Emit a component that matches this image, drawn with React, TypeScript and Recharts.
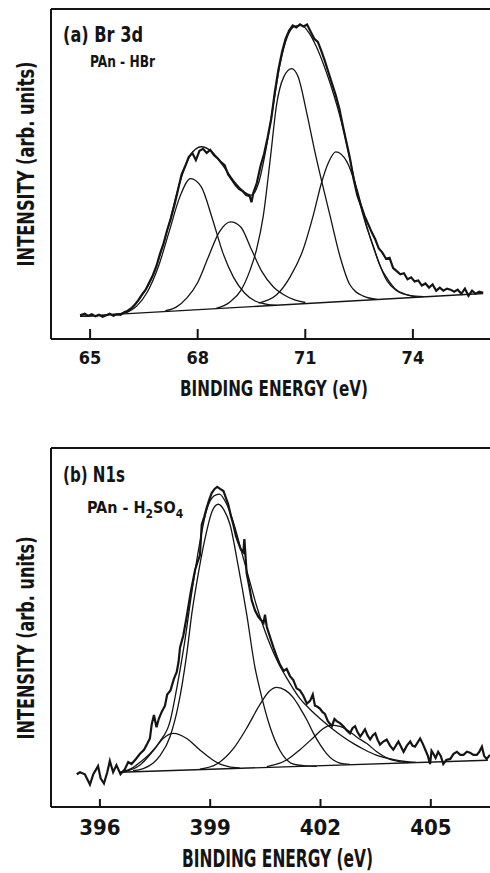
import React from 'react';
import { LineChart, Line, XAxis, YAxis, ReferenceLine } from 'recharts';

type Pt = [number, number];

// (a) Br 3d, PAn-HBr : binding energy (eV), intensity (arb. units)
const brTicks = [65, 68, 71, 74];
const brMeasured: Pt[] = [
  [64.72, 23], [64.85, 24.5], [64.95, 22.5], [65.05, 24], [65.15, 22], [65.25, 23.5], [65.35, 21.5],
  [65.45, 23], [65.55, 24.5], [65.65, 22.5], [65.75, 24], [65.85, 23.5], [65.95, 26], [66.05, 27.5],
  [66.15, 30], [66.25, 33.5], [66.35, 38], [66.45, 43.5], [66.55, 48], [66.65, 55], [66.75, 62],
  [66.85, 71], [66.95, 83], [67.05, 93], [67.15, 106], [67.25, 117], [67.35, 130], [67.45, 145],
  [67.55, 160], [67.65, 168], [67.75, 177], [67.85, 181], [67.95, 174], [68.05, 183], [68.15, 185],
  [68.25, 181], [68.35, 184], [68.45, 179], [68.55, 176], [68.65, 172], [68.75, 169], [68.85, 160],
  [68.95, 155], [69.05, 150], [69.15, 146], [69.25, 144], [69.35, 140], [69.45, 139], [69.5, 133],
  [69.55, 142], [69.65, 152], [69.75, 168], [69.85, 180], [69.95, 196], [70.05, 214], [70.15, 240],
  [70.25, 262], [70.35, 279], [70.45, 292], [70.55, 300], [70.65, 305], [70.75, 303], [70.85, 306],
  [70.95, 304], [71.05, 306], [71.15, 299], [71.25, 292], [71.35, 289], [71.45, 280], [71.55, 270],
  [71.65, 259], [71.75, 248], [71.85, 237], [71.95, 224], [72.05, 207], [72.15, 191], [72.25, 175],
  [72.35, 155], [72.45, 140], [72.55, 130], [72.65, 120], [72.75, 112], [72.85, 104], [72.95, 97],
  [73.05, 88], [73.15, 84], [73.25, 78], [73.35, 79], [73.45, 69], [73.55, 66], [73.65, 63],
  [73.75, 64], [73.85, 58], [73.95, 60], [74.05, 56], [74.15, 57], [74.25, 52], [74.35, 54],
  [74.45, 50], [74.55, 53], [74.65, 47], [74.75, 50], [74.85, 47], [74.95, 49], [75.05, 48],
  [75.15, 46], [75.25, 48], [75.35, 44], [75.45, 49], [75.55, 42], [75.65, 47], [75.75, 44],
  [75.85, 46], [75.96, 45],
];
const brFit: Pt[] = [
  [64.72, 22], [65.5, 23.5], [66.0, 26], [66.4, 40], [66.8, 66], [67.2, 112], [67.5, 152], [67.8, 179],
  [68.1, 187], [68.4, 182], [68.7, 169], [69.0, 154], [69.3, 143], [69.5, 140], [69.7, 152], [69.9, 184],
  [70.1, 226], [70.3, 268], [70.5, 294], [70.7, 304], [70.9, 305], [71.1, 298], [71.3, 285], [71.5, 268],
  [71.7, 248], [71.9, 225], [72.1, 198], [72.3, 166], [72.5, 135], [72.7, 110], [72.9, 90], [73.1, 70],
  [73.3, 58], [73.5, 49], [73.8, 43.5], [74.1, 41],
];
const brPeak1: Pt[] = [
  [66.0, 25.5], [66.3, 32], [66.6, 46], [66.9, 70], [67.2, 104], [67.5, 138], [67.8, 156], [68.1, 148],
  [68.4, 118], [68.7, 84], [69.0, 60], [69.3, 45], [69.6, 37], [69.9, 34], [70.2, 32.8],
];
const brPeak2: Pt[] = [
  [67.1, 27.5], [67.4, 31], [67.7, 40], [68.0, 55], [68.3, 80], [68.6, 104], [68.92, 114], [69.2, 109],
  [69.5, 87], [69.8, 65], [70.1, 51], [70.4, 43], [70.7, 38], [71.0, 35.5],
];
const brPeak3: Pt[] = [
  [68.5, 29.5], [68.9, 36], [69.2, 47], [69.46, 67], [69.64, 87], [69.83, 120], [70.02, 174], [70.2, 228],
  [70.4, 255], [70.62, 263], [70.8, 255], [71.04, 220], [71.25, 185], [71.46, 153], [71.69, 120],
  [71.97, 80], [72.24, 53], [72.62, 41.7], [73.0, 38.6],
];
const brPeak4: Pt[] = [
  [69.7, 35], [70.2, 43], [70.57, 60], [70.94, 87], [71.22, 120], [71.46, 153], [71.65, 172], [71.85, 182],
  [72.15, 173], [72.43, 147], [72.71, 110], [72.99, 80], [73.27, 57], [73.55, 47], [73.9, 42.5], [74.3, 41.2],
];
const brBaseline: Pt[] = [[64.72, 22], [75.96, 44.2]];

// (b) N1s, PAn-H2SO4
const nTicks = [396, 399, 402, 405];
const nMeasured: Pt[] = [
  [395.37, 32], [395.46, 34], [395.59, 32], [395.73, 22], [395.82, 32], [395.95, 40], [396.02, 28],
  [396.11, 23], [396.2, 34], [396.27, 45], [396.36, 34], [396.45, 41], [396.56, 32], [396.68, 37],
  [396.77, 44], [396.86, 42], [396.98, 47], [397.09, 52], [397.2, 56], [397.29, 62], [397.36, 67],
  [397.41, 81], [397.47, 90], [397.54, 78], [397.6, 86], [397.68, 93], [397.77, 99], [397.83, 110],
  [397.92, 114], [398.01, 125], [398.09, 132], [398.14, 142], [398.18, 156], [398.27, 168], [398.36, 186],
  [398.47, 210], [398.59, 232], [398.66, 240], [398.72, 246], [398.77, 276], [398.84, 284], [398.9, 292],
  [398.97, 300], [399.04, 307], [399.12, 311], [399.19, 313], [399.27, 311], [399.36, 309], [399.42, 303],
  [399.49, 296], [399.56, 285], [399.63, 276], [399.7, 265], [399.76, 259], [399.83, 252], [399.9, 249],
  [399.93, 262], [399.99, 229], [400.06, 216], [400.13, 202], [400.22, 192], [400.31, 186], [400.45, 180],
  [400.49, 188], [400.54, 176], [400.63, 166], [400.72, 156], [400.81, 147], [400.9, 139], [401.0, 133],
  [401.08, 135], [401.17, 128], [401.26, 124], [401.35, 116], [401.44, 114], [401.53, 109], [401.63, 101],
  [401.72, 104], [401.79, 110], [401.85, 99], [401.92, 98], [401.99, 96], [402.05, 93], [402.12, 91],
  [402.2, 84], [402.31, 79], [402.38, 86], [402.44, 84], [402.53, 82], [402.62, 79], [402.71, 75],
  [402.8, 72], [402.87, 77], [402.94, 79], [403.01, 73], [403.08, 69], [403.14, 72], [403.21, 76],
  [403.28, 70], [403.35, 66], [403.42, 70], [403.49, 72], [403.55, 66], [403.62, 61], [403.71, 64],
  [403.8, 66], [403.89, 60], [403.98, 56], [404.05, 60], [404.12, 64], [404.19, 59], [404.26, 54],
  [404.35, 60], [404.44, 64], [404.5, 60], [404.57, 59], [404.64, 63], [404.71, 67], [404.78, 62],
  [404.85, 56], [404.92, 50], [404.98, 42], [405.02, 55], [405.07, 52], [405.13, 48], [405.2, 54],
  [405.27, 50], [405.34, 42], [405.42, 46], [405.53, 47], [405.62, 52], [405.71, 54], [405.8, 51],
  [405.89, 51], [405.98, 54], [406.07, 53], [406.16, 51], [406.25, 51], [406.32, 54], [406.39, 59],
  [406.45, 50], [406.52, 47], [406.61, 51],
];
const nFit: Pt[] = [
  [396.54, 34], [396.9, 38.5], [397.1, 44], [397.36, 52], [397.63, 64], [397.91, 84], [398.1, 118],
  [398.3, 160], [398.5, 210], [398.7, 255], [398.9, 290], [399.1, 304], [399.25, 306], [399.45, 296],
  [399.65, 276], [399.85, 250], [400.05, 224], [400.25, 198], [400.45, 176], [400.65, 157], [400.85, 141],
  [401.1, 125], [401.4, 108], [401.7, 96], [402.0, 86], [402.3, 77], [402.6, 69], [402.9, 62],
  [403.2, 56], [403.5, 51], [403.9, 47], [404.3, 44.5], [404.6, 43.6],
];
const nPeakA: Pt[] = [
  [396.63, 34.2], [397.09, 41], [397.45, 55], [397.72, 67], [398.0, 72], [398.36, 67], [398.72, 55.7],
  [399.08, 45.7], [399.27, 42], [399.5, 39.5], [399.8, 38.2],
];
const nPeakB: Pt[] = [
  [396.9, 35.5], [397.18, 37.5], [397.45, 43], [397.63, 50], [397.91, 69], [398.13, 99], [398.36, 149],
  [398.5, 189], [398.68, 229], [398.9, 269], [399.05, 289], [399.22, 296], [399.38, 290], [399.54, 276],
  [399.76, 236], [399.99, 189], [400.22, 136], [400.35, 115], [400.63, 78], [400.9, 55], [401.26, 42],
  [401.6, 40.3], [401.9, 39.8],
];
const nPeakC: Pt[] = [
  [398.72, 37], [399.18, 42], [399.63, 57], [399.99, 77], [400.35, 100], [400.6, 113], [400.81, 117],
  [401.05, 114], [401.26, 107], [401.44, 97], [401.63, 85], [401.81, 72], [401.99, 61], [402.17, 52],
  [402.35, 46], [402.53, 43], [402.8, 41.6],
];
const nPeakD: Pt[] = [
  [400.54, 39.5], [401.08, 46], [401.44, 56], [401.81, 68], [402.05, 76], [402.3, 80], [402.55, 78.5],
  [402.71, 75.7], [403.0, 68], [403.26, 62], [403.53, 54], [403.8, 48], [404.17, 44.2], [404.4, 43.3],
];
const nBaseline: Pt[] = [[396.54, 34], [406.55, 45.7]];

const INK = '#141414';
const FONT = '"Liberation Sans Narrow", "DejaVu Sans Condensed", "Liberation Sans", sans-serif';

const toRows = (pts: Pt[]) => pts.map(([e, v]) => ({ e, v }));

const InTick = (props: any) => {
  const { x, y, payload, fontSize, dy, len } = props;
  return (
    <g>
      <line x1={x} y1={y - len} x2={x} y2={y} stroke={INK} strokeWidth={2} />
      <text x={x} y={y + dy} textAnchor="middle" fontSize={fontSize} fontFamily={FONT} fontWeight="bold" fill={INK}>
        {payload.value}
      </text>
    </g>
  );
};

interface PanelProps {
  height: number;
  top: number;
  bottom: number;
  xDomain: [number, number];
  yMax: number;
  ticks: number[];
  tickFont: number;
  tickDy: number;
  tickLen: number;
  measured: Pt[];
  fit: Pt[];
  peaks: Pt[][];
  baseline: Pt[];
}

const Panel = ({ height, top, bottom, xDomain, yMax, ticks, tickFont, tickDy, tickLen, measured, fit, peaks, baseline }: PanelProps) => (
  <LineChart width={490} height={height} margin={{ top, right: 0, left: 51, bottom: 10 }}>
    <XAxis
      type="number"
      dataKey="e"
      domain={xDomain}
      allowDataOverflow
      ticks={ticks}
      height={height - top - bottom - 10}
      axisLine={{ stroke: INK, strokeWidth: 2 }}
      tickLine={false}
      tickSize={0}
      tickMargin={0}
      tick={<InTick fontSize={tickFont} dy={tickDy} len={tickLen} />}
      interval={0}
    />
    <YAxis type="number" dataKey="v" domain={[0, yMax]} allowDataOverflow hide />
    <ReferenceLine y={yMax} stroke={INK} strokeWidth={2} />
    <ReferenceLine x={xDomain[0]} stroke={INK} strokeWidth={2} />
    <Line data={toRows(baseline)} dataKey="v" type="linear" stroke={INK} strokeWidth={1.4} dot={false} isAnimationActive={false} />
    {peaks.map((p, i) => (
      <Line key={i} data={toRows(p)} dataKey="v" type="monotone" stroke={INK} strokeWidth={1.3} dot={false} isAnimationActive={false} />
    ))}
    <Line data={toRows(fit)} dataKey="v" type="monotone" stroke={INK} strokeWidth={1.3} dot={false} isAnimationActive={false} />
    <Line data={toRows(measured)} dataKey="v" type="linear" stroke={INK} strokeWidth={2.2} dot={false} isAnimationActive={false} />
  </LineChart>
);

const txt = { fontFamily: FONT, fontWeight: 'bold' as const, fill: INK };

export default function App() {
  return (
    <div style={{ position: 'absolute', left: 0, top: 0, width: 490, height: 873, background: '#fff', overflow: 'hidden' }}>
      <div style={{ position: 'absolute', left: 0, top: 0 }}>
        <Panel
          height={440} top={9} bottom={330}
          xDomain={[63.91, 76.15]} yMax={321} ticks={brTicks}
          tickFont={18} tickDy={25} tickLen={10}
          measured={brMeasured} fit={brFit} peaks={[brPeak1, brPeak2, brPeak3, brPeak4]} baseline={brBaseline}
        />
      </div>
      <div style={{ position: 'absolute', left: 0, top: 440 }}>
        <Panel
          height={433} top={8} bottom={359}
          xDomain={[394.67, 406.61]} yMax={351} ticks={nTicks}
          tickFont={22} tickDy={28} tickLen={8}
          measured={nMeasured} fit={nFit} peaks={[nPeakA, nPeakB, nPeakC, nPeakD]} baseline={nBaseline}
        />
      </div>
      <svg width={490} height={873} style={{ position: 'absolute', left: 0, top: 0, pointerEvents: 'none' }}>
        <text x={63} y={42} fontSize={21} textLength={80} lengthAdjust="spacingAndGlyphs" {...txt}>(a) Br 3d</text>
        <text x={90} y={67} fontSize={16} textLength={65} lengthAdjust="spacingAndGlyphs" {...txt}>PAn - HBr</text>
        <text x={180} y={396} fontSize={22} textLength={188} lengthAdjust="spacingAndGlyphs" {...txt}>BINDING ENERGY (eV)</text>
        <text transform="translate(34,164) rotate(-90)" textAnchor="middle" fontSize={23} textLength={205} lengthAdjust="spacingAndGlyphs" {...txt}>INTENSITY (arb. units)</text>

        <text x={63} y={482} fontSize={22} textLength={62} lengthAdjust="spacingAndGlyphs" {...txt}>(b) N1s</text>
        <text x={87} y={513} fontSize={16} {...txt}>
          PAn - H<tspan dy={5} fontSize={12}>2</tspan><tspan dy={-5}>SO</tspan><tspan dy={5} fontSize={12}>4</tspan>
        </text>
        <text x={182} y={867} fontSize={25} textLength={191} lengthAdjust="spacingAndGlyphs" {...txt}>BINDING ENERGY (eV)</text>
        <text transform="translate(34,638) rotate(-90)" textAnchor="middle" fontSize={23} textLength={203} lengthAdjust="spacingAndGlyphs" {...txt}>INTENSITY (arb. units)</text>
      </svg>
    </div>
  );
}
